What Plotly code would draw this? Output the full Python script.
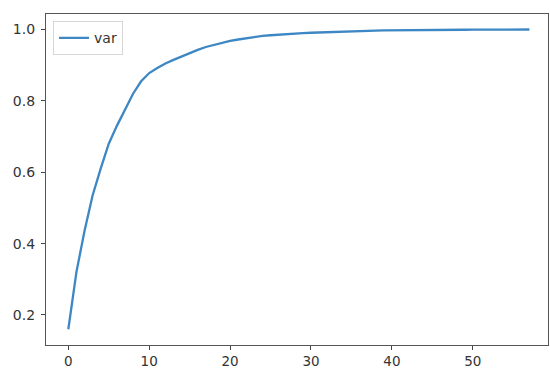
import plotly.graph_objects as go

components = list(range(58))
cum_var = [
    0.160, 0.320, 0.435, 0.535, 0.610, 0.680, 0.730, 0.775, 0.820, 0.855,
    0.878, 0.892, 0.905, 0.915, 0.925, 0.934, 0.943, 0.951, 0.957, 0.963,
    0.968, 0.972, 0.976, 0.979, 0.982, 0.984, 0.986, 0.988, 0.989, 0.990,
    0.991, 0.992, 0.993, 0.994, 0.9948, 0.9955, 0.996, 0.9965, 0.9970, 0.9974,
    0.9978, 0.9981, 0.9984, 0.9986, 0.9988, 0.9990, 0.9991, 0.9992, 0.9993, 0.9994,
    0.9995, 0.9996, 0.9997, 0.9998, 0.9998, 0.9999, 0.99995, 1.000,
]
x_ticks = [0, 10, 20, 30, 40, 50]
y_ticks = [0.2, 0.4, 0.6, 0.8, 1.0]
y_tick_labels = ["0.2", "0.4", "0.6", "0.8", "1.0"]

fig = go.Figure()
fig.add_trace(go.Scatter(
    x=components, y=cum_var, mode="lines", name="var",
    line=dict(color="#3d87c4", width=2.3),
))

axis_common = dict(
    showgrid=False, zeroline=False, showline=True, mirror=True,
    linecolor="#555555", linewidth=1.3,
    ticks="outside", ticklen=4, tickwidth=1, tickcolor="#444444",
    tickfont=dict(family="DejaVu Sans", size=14, color="#333333"),
    automargin=False,
)

fig.update_layout(
    width=550, height=369,
    margin=dict(l=46, r=2, t=14, b=24),
    paper_bgcolor="white", plot_bgcolor="white",
    showlegend=True,
    legend=dict(
        x=0.014, y=0.978, xanchor="left", yanchor="top",
        bgcolor="white", bordercolor="#d6d6d6", borderwidth=1,
        font=dict(family="DejaVu Sans", size=14, color="#333333"),
        itemwidth=30,
    ),
    xaxis=dict(range=[-2.76, 59.3], tickvals=x_ticks, ticklen=3, **axis_common) if False else
          dict(range=[-2.76, 59.3], tickvals=x_ticks, **axis_common),
    yaxis=dict(range=[0.1158, 1.0435], tickvals=y_ticks, ticktext=y_tick_labels,
               ticklabelstandoff=3, **axis_common),
)
fig.update_xaxes(tickfont=dict(family="DejaVu Sans", size=13.5, color="#333333"))

fig.write_html(
    "out.html",
    config={"displayModeBar": False},
    post_script="document.body.style.margin='0';document.body.style.overflow='hidden';",
)
